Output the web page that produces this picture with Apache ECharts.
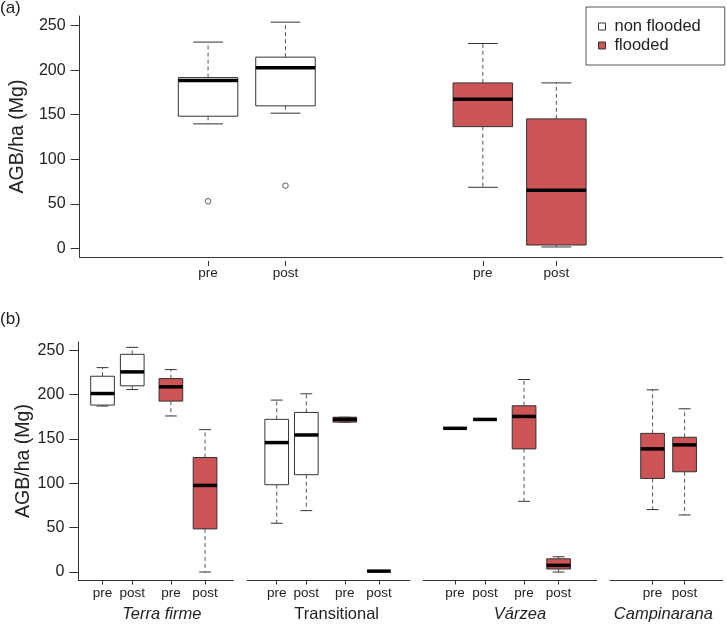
<!DOCTYPE html>
<html>
<head>
<meta charset="utf-8">
<script src="https://cdn.jsdelivr.net/npm/echarts@6/dist/echarts.min.js"></script>
<style>
  html, body { margin: 0; padding: 0; background: #fff; }
  #chart { width: 727px; height: 624px; }
</style>
</head>
<body>
<div id="chart"></div>
<script>
// --- data (AGB, Mg/ha) ---
// every box: [lower whisker, Q1, median, Q3, upper whisker]
const tickNames = ['pre', 'post', 'pre', 'post'];
const yTicks = [0, 50, 100, 150, 200, 250];

// (a) pooled
const aNonFlooded = [[139.7, 148.3, 188.3, 191.7, 231.5], [151.7, 159.9, 202.6, 214.6, 253.9]];
const aFlooded = [[68.5, 136.6, 167.4, 185.7, 229.9], [1.5, 3.7, 65.2, 145.3, 185.7]];
const aOutliers = [52.8, 70.3]; // one under each non flooded box
const aAt = [1, 2, 4.55, 5.5];  // box positions (like R's at=)

// (b) by forest type
const forestTypes = ['Terra firme', 'Transitional', 'Várzea', 'Campinarana'];
const terraFirme = [[187.1, 188.2, 201.2, 220.7, 230.4], [205.7, 209.9, 225.6, 245.4, 253.3],
                    [175.9, 192.7, 208.8, 218.1, 228.2], [0, 48.6, 97.6, 129.1, 160.5]];
const transitional = [[55, 98.4, 145.9, 172.1, 193.8], [69.2, 109.7, 154.5, 179.9, 200.9],
                      [169, 169, 172, 174.5, 174.5], [1, 1, 1, 1, 1]];
const varzea = [[162, 162, 162, 162, 162], [172, 172, 172, 172, 172],
                [79.7, 138.8, 175.4, 187.4, 217], [0, 3.4, 7.5, 14.9, 17.2]];
const campinarana = [[70.4, 105.5, 138.8, 156.3, 205.4], [64.3, 113, 143.3, 151.9, 184]];
const bBoxes = [terraFirme, transitional, varzea, campinarana];
const bFlooded = [[0, 0, 1, 1], [0, 0, 1, 1], [0, 0, 1, 1], [1, 1]];
const bTickNames = [tickNames, tickNames, tickNames, ['pre', 'post']];
const bAt = [[1, 2, 3.3, 4.45], [1, 2, 3.3, 4.45], [1, 2, 3.3, 4.45], [1, 2]];

// --- layout / style ---
const FONT = "'Liberation Sans', Arial, sans-serif";
const RED = '#CD5555';
const INK = '#222';
const LINE = '#333';

// panel (b) sub plots: pixel box + x range
const bGrid = [
  { left: 78.3, width: 155, min: 0.185, max: 5.40, pad: [0, 0, 0, 12], italic: true },
  { left: 247.3, width: 162.7, min: 0.007, max: 5.50, pad: [0, 0, 0, 16], italic: false },
  { left: 423.3, width: 173.4, min: -0.057, max: 5.72, pad: [0, 0, 0, 20], italic: true },
  { left: 610, width: 112.7, min: -0.33, max: 3.19, pad: [0, 6, 0, 0], italic: true }
];

const chart = echarts.init(document.getElementById('chart'));

function boxSeries(name, xi, yi, boxes, at, fill, boxW) {
  return {
    name: name,
    type: 'custom',
    xAxisIndex: xi,
    yAxisIndex: yi,
    data: boxes.map((b, i) => [at[i]].concat(b)),
    encode: { x: 0, y: [1, 2, 3, 4, 5] },
    renderItem: function (params, api) {
      const x = api.value(0);
      const pts = [1, 2, 3, 4, 5].map(d => api.coord([x, api.value(d)]));
      const cx = pts[0][0];
      const [lo, q1, md, q3, hi] = pts.map(p => p[1]);
      const half = boxW / 2, cap = boxW / 4;
      const dash = { stroke: '#555', lineWidth: 1, lineDash: [4, 3] };
      const solid = { stroke: LINE, lineWidth: 1 };
      return {
        type: 'group',
        children: [
          { type: 'line', shape: { x1: cx, y1: q3, x2: cx, y2: hi }, style: dash },
          { type: 'line', shape: { x1: cx, y1: q1, x2: cx, y2: lo }, style: dash },
          { type: 'line', shape: { x1: cx - cap, y1: hi, x2: cx + cap, y2: hi }, style: solid },
          { type: 'line', shape: { x1: cx - cap, y1: lo, x2: cx + cap, y2: lo }, style: solid },
          { type: 'rect', shape: { x: cx - half, y: q3, width: boxW, height: q1 - q3 },
            style: { fill: fill, stroke: LINE, lineWidth: 1 } },
          { type: 'line', shape: { x1: cx - half, y1: md, x2: cx + half, y2: md },
            style: { stroke: '#000', lineWidth: 3.5 } }
        ]
      };
    }
  };
}

function yAxisFor(gridIndex, min, max, show) {
  return {
    type: 'value', gridIndex: gridIndex, min: min, max: max, show: show,
    axisLine: { show: true, onZero: false, lineStyle: { color: LINE } },
    axisTick: { show: true, length: 9, customValues: yTicks, lineStyle: { color: LINE } },
    axisLabel: { customValues: yTicks, fontSize: 16, color: INK, margin: 14, fontFamily: FONT },
    splitLine: { show: false },
    name: 'AGB/ha (Mg)', nameLocation: 'middle', nameGap: 45,
    nameTextStyle: { fontSize: 19.5, color: INK, fontFamily: FONT }
  };
}

const grids = [{ left: 79, top: 16, width: 643.7, height: 241 }];
const xAxes = [
  { type: 'value', gridIndex: 0, min: -0.66, max: 7.649,
    axisLine: { show: true, onZero: false, lineStyle: { color: LINE } },
    axisTick: { show: false }, axisLabel: { show: false }, splitLine: { show: false } },
  { type: 'value', gridIndex: 0, min: -0.66, max: 7.649, position: 'bottom', offset: 4,
    axisLine: { show: false, onZero: false },
    axisTick: { show: true, length: 5, customValues: aAt, lineStyle: { color: LINE } },
    axisLabel: { customValues: aAt, formatter: v => tickNames[aAt.indexOf(v)],
                 fontSize: 13.5, color: INK, margin: 5, fontFamily: FONT },
    splitLine: { show: false } }
];
const yAxes = [yAxisFor(0, -9.77, 260.8, true)];

const series = [
  boxSeries('non flooded', 0, 0, aNonFlooded, aAt.slice(0, 2), '#fff', 59.5),
  boxSeries('flooded', 0, 0, aFlooded, aAt.slice(2), RED, 59.5),
  { type: 'scatter', xAxisIndex: 0, yAxisIndex: 0, symbol: 'circle', symbolSize: 5.5,
    data: aOutliers.map((v, i) => [aAt[i], v]),
    itemStyle: { color: '#fff', borderColor: LINE, borderWidth: 1 } }
];

bGrid.forEach((g, k) => {
  grids.push({ left: g.left, width: g.width, top: 342, height: 239 });
  const gi = k + 1;      // grid / y axis index
  const xi = k + 2;      // x axis index (panel a uses two)
  const at = bAt[k];
  xAxes.push({
    type: 'value', gridIndex: gi, min: g.min, max: g.max,
    axisLine: { show: true, onZero: false, lineStyle: { color: LINE } },
    axisTick: { show: true, length: 4.5, customValues: at, lineStyle: { color: LINE } },
    axisLabel: { customValues: at, formatter: v => bTickNames[k][at.indexOf(v)],
                 fontSize: 13.5, color: INK, margin: 6, fontFamily: FONT },
    splitLine: { show: false },
    name: forestTypes[k], nameLocation: 'middle', nameGap: 26,
    nameTextStyle: { fontSize: 16.5, color: INK, fontFamily: FONT,
                     fontStyle: g.italic ? 'italic' : 'normal', padding: g.pad }
  });
  yAxes.push(yAxisFor(gi, -9, 259.3, k === 0));
  const boxes = bBoxes[k], fl = bFlooded[k];
  const idxW = fl.map((f, i) => f ? -1 : i).filter(i => i >= 0);
  const idxR = fl.map((f, i) => f ? i : -1).filter(i => i >= 0);
  if (idxW.length) series.push(boxSeries('non flooded', xi, gi, idxW.map(i => boxes[i]), idxW.map(i => at[i]), '#fff', 23.7));
  if (idxR.length) series.push(boxSeries('flooded', xi, gi, idxR.map(i => boxes[i]), idxR.map(i => at[i]), RED, 23.7));
});

chart.setOption({
  animation: false,
  backgroundColor: '#fff',
  textStyle: { fontFamily: FONT },
  title: [
    { text: '(a)', left: 0, top: 0, padding: 0, textStyle: { fontSize: 17, fontWeight: 'normal', color: INK, fontFamily: FONT } },
    { text: '(b)', left: 0, top: 311, padding: 0, textStyle: { fontSize: 17, fontWeight: 'normal', color: INK, fontFamily: FONT } }
  ],
  legend: {
    orient: 'vertical', left: 586, top: 7,
    data: [
      { name: 'non flooded', icon: 'rect', itemStyle: { color: '#fff', borderColor: LINE, borderWidth: 1 } },
      { name: 'flooded', icon: 'rect', itemStyle: { color: RED, borderColor: LINE, borderWidth: 1 } }
    ],
    itemWidth: 7, itemHeight: 7, itemGap: 2,
    padding: [11, 24, 11, 12],
    borderColor: '#555', borderWidth: 1,
    selectedMode: false,
    textStyle: { fontSize: 16.5, color: INK, fontFamily: FONT, padding: [0, 0, 0, 4] }
  },
  grid: grids,
  xAxis: xAxes,
  yAxis: yAxes,
  series: series
});
</script>
</body>
</html>
